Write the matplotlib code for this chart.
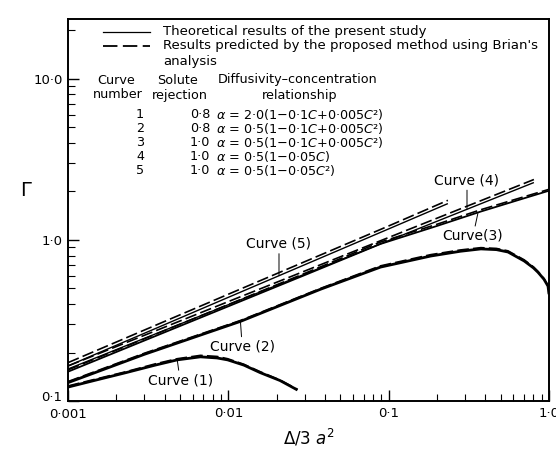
import matplotlib.pyplot as plt
from matplotlib.lines import Line2D
from matplotlib.transforms import ScaledTranslation

W, H = 556, 451

# x = delta/3a^2, y = Gamma
x1 = [0.001, 0.0015, 0.0023, 0.0035, 0.0048, 0.0067, 0.0085, 0.0099, 0.0125, 0.0158, 0.021, 0.027]
y1_theory = [0.122, 0.135, 0.150, 0.167, 0.180, 0.188, 0.185, 0.180, 0.167, 0.150, 0.134, 0.117]
y1_pred = [0.124, 0.137, 0.152, 0.170, 0.183, 0.192, 0.189, 0.183, 0.169, 0.152, 0.135, 0.118]

x2 = [0.001, 0.003, 0.0119, 0.0376, 0.089, 0.183, 0.28, 0.376, 0.47, 0.555, 0.70, 0.80, 0.853, 0.93, 0.986, 1.0]
y2_theory = [0.130, 0.195, 0.312, 0.494, 0.678, 0.794, 0.850, 0.879, 0.870, 0.841, 0.740, 0.670, 0.630, 0.570, 0.516, 0.460]
y2_pred = [0.132, 0.198, 0.316, 0.500, 0.690, 0.810, 0.866, 0.895, 0.885, 0.855, 0.752, 0.680, 0.638, 0.576, 0.520, 0.462]

x3 = [0.001, 0.01, 0.03, 0.089, 0.2, 0.376, 0.6, 1.0]
y3_theory = [0.152, 0.387, 0.605, 0.944, 1.22, 1.50, 1.73, 2.02]
y3_pred = [0.156, 0.397, 0.620, 0.970, 1.25, 1.54, 1.77, 2.06]

x4 = [0.001, 0.01, 0.1, 0.805]
y4_theory = [0.158, 0.396, 0.99, 2.27]
y4_pred = [0.165, 0.414, 1.035, 2.37]

x5 = [0.001, 0.01, 0.1, 0.234]
y5_theory = [0.165, 0.44, 1.17, 1.68]
y5_pred = [0.173, 0.46, 1.22, 1.76]

xticks = [0.001, 0.01, 0.1, 1.0]
xticklabels = ['0·001', '0·01', '0·1', '1·0']
yticks = [0.1, 1.0, 10.0]
yticklabels = ['0·1', '1·0', '10·0']

table_num = ['1', '2', '3', '4', '5']
table_rej = ['0·8', '0·8', '1·0', '1·0', '1·0']
table_rel = [r'$\alpha$ = 2·0(1−0·1$C$+0·005$C$²)',
             r'$\alpha$ = 0·5(1−0·1$C$+0·005$C$²)',
             r'$\alpha$ = 0·5(1−0·1$C$+0·005$C$²)',
             r'$\alpha$ = 0·5(1−0·05$C$)',
             r'$\alpha$ = 0·5(1−0·05$C$²)']


def px(x, y):
    return x / W, 1 - y / H


plt.rcParams['font.family'] = ['DejaVu Sans']
plt.rcParams['mathtext.fontset'] = 'dejavusans'

fig = plt.figure(figsize=(W / 100, H / 100), dpi=100)
ax = fig.add_axes([68 / W, 1 - 401 / H, (549 - 68) / W, (401 - 19) / H])
ax.set_xscale('log')
ax.set_yscale('log')
ax.set_xlim(0.001, 1.0)
ax.set_ylim(0.1, 23.5)

dash = (0, (7, 2.5))
for xs, yt, yp, lw in [(x1, y1_theory, y1_pred, 2.0), (x2, y2_theory, y2_pred, 2.0),
                       (x3, y3_theory, y3_pred, 1.3), (x4, y4_theory, y4_pred, 1.0),
                       (x5, y5_theory, y5_pred, 1.0)]:
    ax.plot(xs, yt, color='black', lw=lw, solid_capstyle='butt')
    ax.plot(xs, yp, color='black', lw=1.2, linestyle=dash)

ax.set_xticks(xticks)
ax.set_xticklabels(xticklabels)
ax.set_yticks(yticks)
ax.set_yticklabels(yticklabels)
ax.tick_params(which='major', direction='in', length=8, width=1.0, labelsize=9.5, pad=4)
ax.tick_params(which='minor', direction='in', length=5, width=0.8)
ax.tick_params(top=False, right=False, which='both')
for s in ax.spines.values():
    s.set_linewidth(1.4)

# the corner labels sit stacked, 0.1 a little above 0.001
lbl = ax.get_yticklabels()[0]
lbl.set_transform(lbl.get_transform() + ScaledTranslation(0, 0.05, fig.dpi_scale_trans))
lbl = ax.get_xticklabels()[0]
lbl.set_transform(lbl.get_transform() + ScaledTranslation(0, -0.01, fig.dpi_scale_trans))

ax.set_xlabel(r'$\Delta/3\;a^2$', fontsize=12, labelpad=5)
fig.text(*px(26, 190), r'$\Gamma$', fontsize=14, ha='center', va='center')

# curve labels
arrow = dict(arrowstyle='-', lw=0.7, color='black', shrinkA=0, shrinkB=0)
lab = dict(ha='center', va='center', fontsize=10, arrowprops=arrow)
ax.annotate('Curve (1)', xy=(0.0048, 0.180), xytext=(0.005, 0.135), **lab)
ax.annotate('Curve (2)', xy=(0.0119, 0.312), xytext=(0.0122, 0.218), **lab)
ax.annotate('Curve (5)', xy=(0.0207, 0.60), xytext=(0.0207, 0.944), **lab)
ax.annotate('Curve (4)', xy=(0.308, 1.55), xytext=(0.308, 2.34), **lab)
ax.annotate('Curve(3)', xy=(0.36, 1.46), xytext=(0.336, 1.06), **lab)

# legend
fig.add_artist(Line2D([103 / W, 150 / W], [1 - 32 / H] * 2, color='black', lw=0.9))
fig.add_artist(Line2D([103 / W, 150 / W], [1 - 46 / H] * 2, color='black', lw=1.3, linestyle=(0, (8, 3))))
fig.text(*px(163, 32), 'Theoretical results of the present study', fontsize=9.5, va='center')
fig.text(*px(163, 46), "Results predicted by the proposed method using Brian's", fontsize=9.5, va='center')
fig.text(*px(163, 61), 'analysis', fontsize=9.5, va='center')

tfs = 9.2
fig.text(*px(116, 80), 'Curve', fontsize=tfs, ha='center', va='center')
fig.text(*px(178, 80), 'Solute', fontsize=tfs, ha='center', va='center')
fig.text(*px(298, 80), 'Diffusivity–concentration', fontsize=tfs, ha='center', va='center')
fig.text(*px(118, 95), 'number', fontsize=tfs, ha='center', va='center')
fig.text(*px(180, 95), 'rejection', fontsize=tfs, ha='center', va='center')
fig.text(*px(300, 95), 'relationship', fontsize=tfs, ha='center', va='center')

for i in range(5):
    yy = 115 + i * 14
    fig.text(*px(140, yy), table_num[i], fontsize=tfs, ha='center', va='center')
    fig.text(*px(200, yy), table_rej[i], fontsize=tfs, ha='center', va='center')
    fig.text(*px(216, yy), table_rel[i], fontsize=tfs, ha='left', va='center')

fig.savefig('out.png', dpi=100)
